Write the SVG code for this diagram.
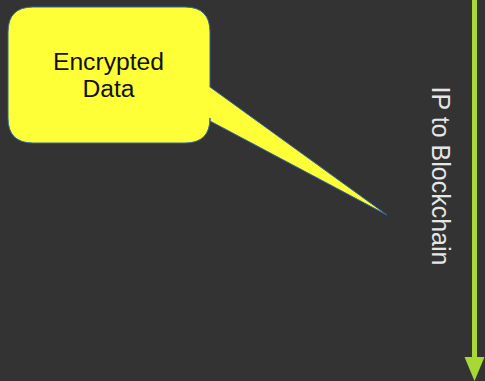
<svg xmlns="http://www.w3.org/2000/svg" width="485" height="381" viewBox="0 0 485 381">
<style>
.bg{fill:#333333}
.bubble{fill:#ffff38;stroke:#3465a4;stroke-width:1;stroke-linejoin:miter}
.btxt{font-family:"Liberation Sans",Arial,sans-serif;font-size:24.7px;fill:#111111;text-anchor:middle}
.ltxt{font-family:"Liberation Sans",Arial,sans-serif;font-size:25px;fill:#e6e6e6;text-anchor:middle}
.flow{stroke:#a8d835;stroke-width:5;fill:none}
</style>
<rect class="bg" x="0" y="0" width="485" height="381"/>
<g id="connectors">
<line class="flow" x1="474.5" y1="0" x2="474.5" y2="360"/>
<path d="M464.5,357 L484.5,357 L474.5,381 Z" fill="#a8d835"/>
</g>
<g id="label-ip-to-blockchain">
<text class="ltxt" transform="translate(432,176) rotate(90)" x="0" y="0">IP to Blockchain</text>
</g>
<g id="node-encrypted-data">
<path class="bubble" d="M33,7 L185,7 Q210,7 210,32 L210,87 L387,215 L210,121 L210,118 Q210,143 185,143 L33,143 Q8,143 8,118 L8,32 Q8,7 33,7 Z"/>
<text class="btxt" x="108.5" y="69.5">Encrypted</text>
<text class="btxt" x="108.5" y="96.5">Data</text>
</g>
</svg>
